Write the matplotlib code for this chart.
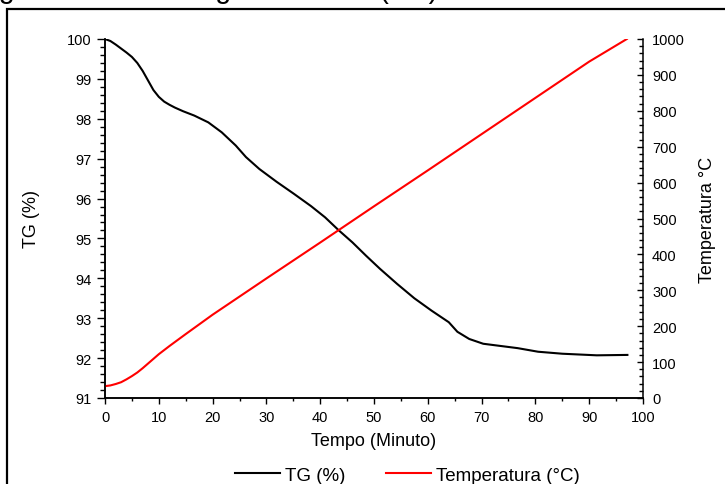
import matplotlib
matplotlib.use("Agg")
import matplotlib.pyplot as plt
from matplotlib.patches import Rectangle
from matplotlib.ticker import MultipleLocator

# --- DATEN ---
tempo_tg = [0, 1, 2, 3, 4, 5, 6, 7, 8, 9, 10, 11, 12, 13, 14.5, 16.6, 19.2,
            21.7, 24.3, 26.2, 28.7, 31.9, 35.1, 38.3, 40.9, 43.4, 46.0, 48.5,
            51.1, 54.3, 57.5, 60.7, 63.9, 65.5, 67.7, 70.3, 76.7, 80.5, 85.0,
            91.4, 97.1]
tg = [100, 99.95, 99.86, 99.76, 99.66, 99.55, 99.40, 99.20, 98.96, 98.72,
      98.55, 98.43, 98.35, 98.28, 98.19, 98.08, 97.91, 97.66, 97.33, 97.04,
      96.74, 96.42, 96.12, 95.81, 95.53, 95.21, 94.90, 94.57, 94.24, 93.86,
      93.50, 93.19, 92.90, 92.66, 92.48, 92.36, 92.25, 92.16, 92.11, 92.07,
      92.08]

tempo_temp = [0, 1, 2, 3, 4, 5, 6, 7, 8, 9, 10, 12, 15, 20, 30, 40, 50, 60,
              70, 80, 90, 97]
temperatura = [33, 35, 39, 44, 52, 61, 71, 83, 96, 109, 122, 145, 178, 232,
               333, 433, 534, 634, 735, 836, 937, 1000]

titulo = "Figura 4.1 – Termogravimétrica (TG)"

plt.rcParams["font.family"] = ["Liberation Sans", "DejaVu Sans"]

fig = plt.figure(figsize=(7.25, 4.85), dpi=100)
ax = fig.add_axes([105 / 725, 1 - 399 / 485, 538 / 725, 359 / 485])
ax2 = ax.twinx()

linha_tg, = ax.plot(tempo_tg, tg, color="black", lw=1.5, label="TG (%)")
linha_t, = ax2.plot(tempo_temp, temperatura, color="red", lw=1.5,
                    label="Temperatura (°C)")

ax.set_xlim(0, 100)
ax.set_ylim(91, 100)
ax2.set_ylim(0, 1000)

ax.xaxis.set_major_locator(MultipleLocator(10))
ax.xaxis.set_minor_locator(MultipleLocator(5))
ax.yaxis.set_major_locator(MultipleLocator(1))
ax.yaxis.set_minor_locator(MultipleLocator(0.2))
ax2.yaxis.set_major_locator(MultipleLocator(100))
ax2.yaxis.set_minor_locator(MultipleLocator(20))

ax.tick_params(axis="x", which="major", direction="out", length=4.5, width=1, labelsize=10.5, pad=4)
ax.tick_params(axis="x", which="minor", direction="out", length=2.5, width=1)
ax.tick_params(axis="y", which="major", direction="out", length=5.5, width=1, labelsize=10.5, pad=4)
ax.tick_params(axis="y", which="minor", direction="out", length=3.5, width=1)
ax2.tick_params(axis="y", which="major", direction="in", length=4.5, width=1, labelsize=10.5, pad=6.5)
ax2.tick_params(axis="y", which="minor", direction="in", length=2.8, width=1)

for a in (ax, ax2):
    a.spines["top"].set_visible(False)
    for s in a.spines.values():
        s.set_linewidth(1.1)
ax.spines["right"].set_visible(False)

ax.set_xlabel("Tempo (Minuto)", fontsize=13, labelpad=6)
ax.set_ylabel("TG (%)", fontsize=13)
ax.yaxis.set_label_coords(-0.12, 0.5)
ax2.set_ylabel("Temperatura °C", fontsize=13)
ax2.yaxis.set_label_coords(1.105, 0.5)

fig.legend(handles=[linha_tg, linha_t], loc="center", bbox_to_anchor=(0.562, 0.018),
           ncol=2, frameon=False, fontsize=13.5, handlelength=2.4,
           handletextpad=0.25, columnspacing=2.2, borderpad=0)

# Rahmen und oben abgeschnittener Titel (wie im Original)
fig.patches.append(Rectangle((7 / 725, -0.05), 1.0, 1 - 10 / 485 + 0.05,
                             transform=fig.transFigure, fill=False,
                             lw=1.6, ec="black"))
fig.text(-25.3 / 725, 1 + 2 / 485, titulo, fontsize=20.6, ha="left", va="baseline")

fig.savefig("out.png", dpi=100)
